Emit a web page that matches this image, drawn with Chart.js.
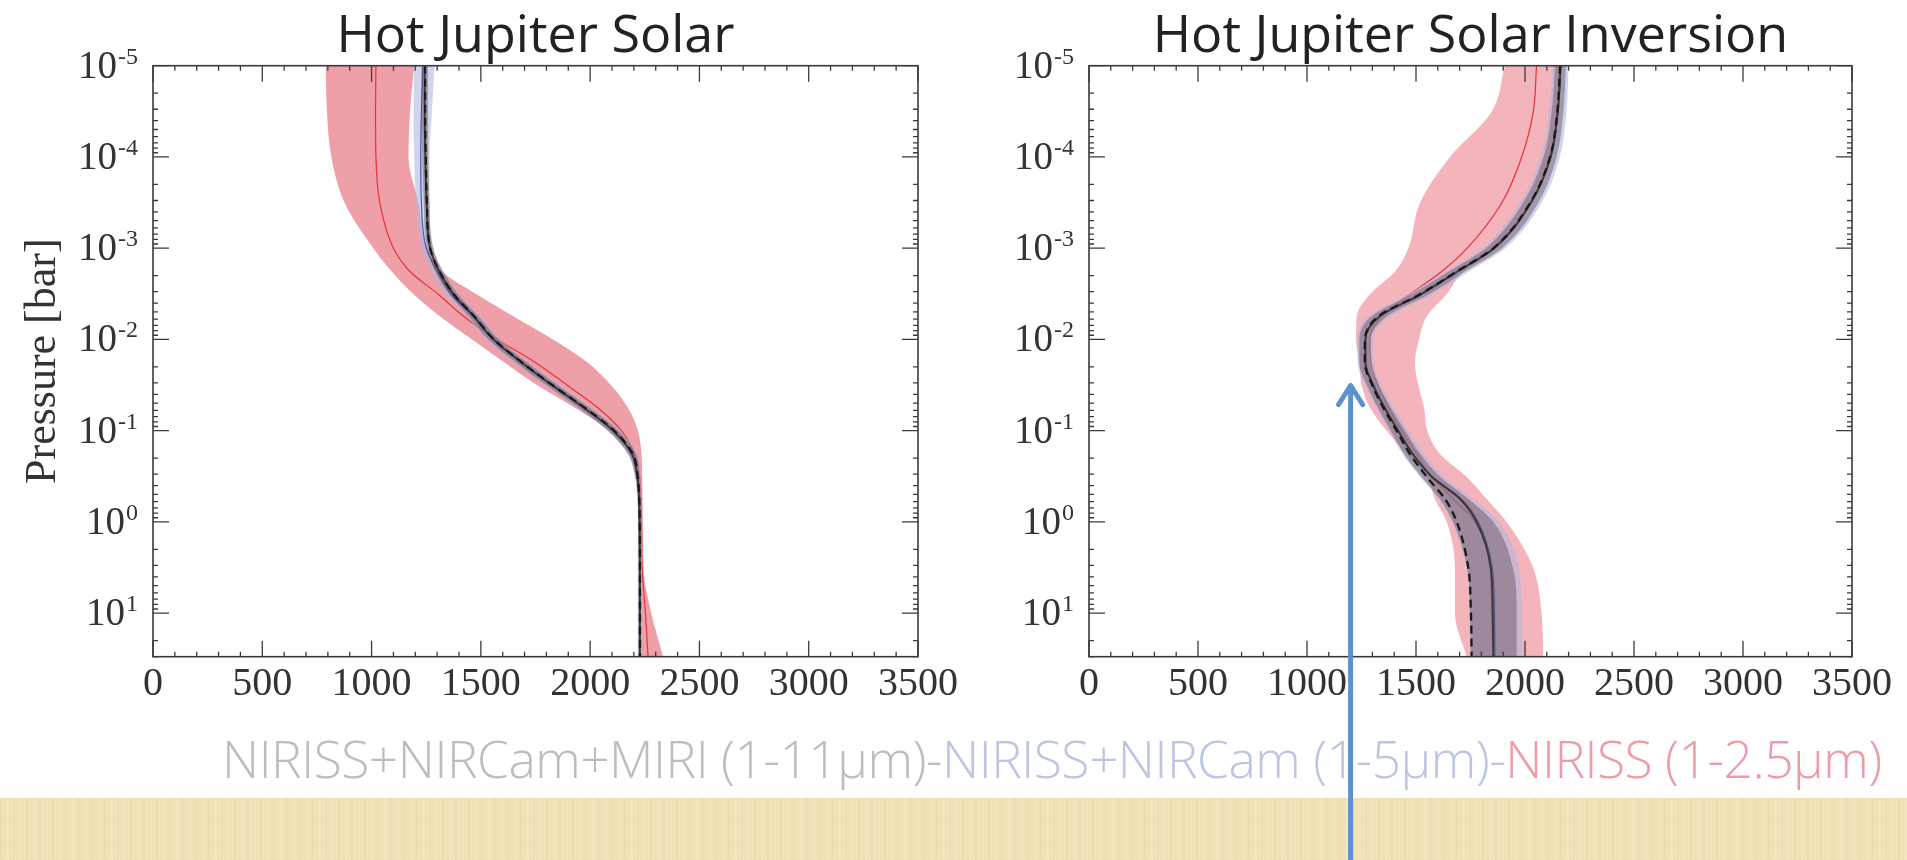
<!DOCTYPE html>
<html>
<head>
<meta charset="utf-8">
<title>Hot Jupiter temperature profiles</title>
<script src="https://cdn.jsdelivr.net/npm/chart.js@4.4.1/dist/chart.umd.min.js"></script>
<style>
  html, body { margin: 0; padding: 0; background: #fff; }
  #page { position: relative; width: 1907px; height: 860px; overflow: hidden; background: #fff; }
  #paper {
    position: absolute; left: 0; top: 798px; width: 1907px; height: 62px;
    background-color: #f2e2b8;
    background-image:
      repeating-linear-gradient(90deg, rgba(196,164,104,0.08) 0 2px, transparent 2px 7px, rgba(255,255,255,0.12) 7px 9px, transparent 9px 13px),
      repeating-linear-gradient(0deg, rgba(190,158,98,0.06) 0 1px, transparent 1px 6px);
  }
  #legend {
    position: absolute; left: 222px; top: 732px; height: 52px; line-height: 52px;
    font-family: "Open Sans", sans-serif; font-weight: 300; font-size: 51.5px;
    white-space: nowrap; letter-spacing: -0.5px;
  }
  #legend .g { color: #bdbdbd; }
  #legend .b { color: #bcc5e2; }
  #legend .r { color: #f09aa5; }
  canvas { position: absolute; top: 0; }
  #solar { left: 0; }
  #inversion { left: 963px; }
</style>
</head>
<body>
<div id="page">
  <div id="paper"></div>
  <div id="legend"><span class="g">NIRISS+NIRCam+MIRI (1-11µm)-</span><span class="b">NIRISS+NIRCam (1-5µm)-</span><span class="r">NIRISS (1-2.5µm)</span></div>
  <canvas id="solar" width="963" height="860"></canvas>
  <canvas id="inversion" width="944" height="860"></canvas>
</div>
<script>
// pressure levels [bar], shared by every profile
var PRESSURE = [1e-5, 3.2e-5, 1e-4, 3.2e-4, 1e-3, 1.8e-3, 3.2e-3, 5.6e-3, 1e-2, 1.8e-2,
                3.2e-2, 5.6e-2, 0.1, 0.18, 0.32, 0.56, 1, 3.2, 10, 30];

var TEMP_TICKS = [0, 500, 1000, 1500, 2000, 2500, 3000, 3500];
var PRESSURE_DECADES = [-5, -4, -3, -2, -1, 0, 1];

// Hot Jupiter Solar (temperatures in K)
var SOLAR_TRUE     = [1245, 1245, 1248, 1253, 1268, 1311, 1376, 1470, 1560, 1690, 1830, 1975, 2110, 2195, 2218, 2225, 2227, 2228, 2228, 2228];
var SOLAR_GRAY_MED = [1243, 1243, 1246, 1252, 1268, 1310, 1375, 1468, 1558, 1688, 1828, 1972, 2106, 2192, 2216, 2224, 2226, 2227, 2227, 2227];
var SOLAR_GRAY_LO  = [1228, 1228, 1232, 1239, 1254, 1292, 1355, 1446, 1534, 1662, 1802, 1946, 2082, 2174, 2206, 2218, 2221, 2222, 2222, 2222];
var SOLAR_GRAY_HI  = [1258, 1258, 1260, 1265, 1282, 1328, 1395, 1490, 1582, 1714, 1854, 1998, 2130, 2210, 2226, 2230, 2231, 2232, 2232, 2232];
var SOLAR_BLUE_MED = [1235, 1228, 1225, 1228, 1250, 1300, 1365, 1465, 1555, 1685, 1826, 1970, 2105, 2190, 2215, 2223, 2226, 2227, 2227, 2227];
var SOLAR_BLUE_LO  = [1195, 1192, 1195, 1204, 1230, 1276, 1337, 1437, 1525, 1650, 1795, 1940, 2080, 2172, 2206, 2215, 2218, 2218, 2218, 2218];
var SOLAR_BLUE_HI  = [1288, 1276, 1265, 1265, 1282, 1325, 1400, 1500, 1588, 1718, 1865, 2008, 2138, 2214, 2230, 2235, 2236, 2237, 2238, 2238];
var SOLAR_RED_MED  = [1020, 1018, 1020, 1038, 1100, 1176, 1305, 1422, 1575, 1751, 1897, 2035, 2143, 2204, 2227, 2232, 2235, 2238, 2253, 2265];
var SOLAR_RED_LO   = [790, 796, 816, 877, 1008, 1092, 1192, 1314, 1460, 1610, 1760, 1930, 2085, 2180, 2212, 2220, 2222, 2224, 2226, 2230];
var SOLAR_RED_HI   = [1195, 1176, 1169, 1215, 1253, 1322, 1480, 1650, 1830, 1990, 2097, 2173, 2219, 2235, 2238, 2240, 2241, 2244, 2280, 2334];

// Hot Jupiter Solar Inversion
var INV_TRUE     = [2161, 2148, 2115, 2023, 1855, 1687, 1518, 1327, 1266, 1265, 1300, 1350, 1411, 1472, 1549, 1633, 1687, 1740, 1752, 1755];
var INV_GRAY_MED = [2163, 2150, 2117, 2026, 1858, 1690, 1522, 1332, 1268, 1268, 1304, 1356, 1418, 1484, 1572, 1702, 1778, 1843, 1852, 1855];
var INV_GRAY_LO  = [2138, 2122, 2085, 1990, 1820, 1650, 1480, 1295, 1240, 1240, 1275, 1325, 1385, 1445, 1525, 1610, 1670, 1735, 1748, 1752];
var INV_GRAY_HI  = [2188, 2176, 2145, 2060, 1895, 1725, 1560, 1365, 1292, 1295, 1330, 1385, 1450, 1520, 1610, 1740, 1855, 1945, 1962, 1962];
var INV_BLUE_MED = [2165, 2152, 2119, 2028, 1860, 1692, 1524, 1333, 1268, 1269, 1306, 1358, 1420, 1487, 1576, 1708, 1785, 1850, 1860, 1862];
var INV_BLUE_LO  = [2128, 2110, 2072, 1975, 1805, 1635, 1465, 1282, 1232, 1232, 1268, 1318, 1378, 1438, 1518, 1605, 1665, 1732, 1745, 1750];
var INV_BLUE_HI  = [2200, 2190, 2160, 2075, 1910, 1742, 1578, 1382, 1302, 1305, 1342, 1398, 1465, 1536, 1628, 1762, 1880, 1972, 1985, 1988];
var INV_RED_MED  = [2053, 2038, 1985, 1893, 1735, 1618, 1472, 1343, 1289, 1295, 1327, 1373, 1434, 1503, 1572, 1671, 1771, 1840, 1847, 1852];
var INV_RED_LO   = [1908, 1847, 1656, 1518, 1465, 1404, 1289, 1228, 1225, 1240, 1251, 1289, 1365, 1457, 1549, 1587, 1641, 1679, 1679, 1732];
var INV_RED_HI   = [2170, 2152, 2118, 2030, 1870, 1717, 1641, 1549, 1514, 1495, 1511, 1537, 1552, 1610, 1732, 1824, 1916, 2038, 2076, 2084];

// arrow pointing at the temperature minimum of the inversion profile
var ARROW_T = 1200;
var ARROW_P = 3.2e-2;

function profile(temps) {
  return temps.map(function (t, i) { return { x: t, y: PRESSURE[i] }; });
}

function line(temps, color, width, order, dash) {
  return {
    data: profile(temps), borderColor: color, borderWidth: width,
    borderDash: dash || [], fill: false, order: order
  };
}

// lower edge fills up to the next dataset (the upper edge)
function band(lo, hi, color, order) {
  return [
    { data: profile(lo), borderWidth: 0, backgroundColor: color, fill: '+1', order: order },
    { data: profile(hi), borderWidth: 0, fill: false, order: order }
  ];
}

// frame, inward ticks, decade labels, titles
var frame = {
  id: 'frame',
  afterDraw: function (chart, args, opts) {
    var ctx = chart.ctx, a = chart.chartArea;
    var x = chart.scales.x, y = chart.scales.y;
    ctx.save();
    ctx.strokeStyle = '#3a3a3a';
    ctx.lineWidth = 1.6;
    ctx.strokeRect(a.left, a.top, a.right - a.left, a.bottom - a.top);

    ctx.beginPath();
    ctx.lineWidth = 1.3;
    for (var t = 0; t <= 3500; t += 100) {
      var px = x.getPixelForValue(t);
      var len = TEMP_TICKS.indexOf(t) >= 0 ? 16 : 5;
      ctx.moveTo(px, a.bottom); ctx.lineTo(px, a.bottom - len);
      ctx.moveTo(px, a.top); ctx.lineTo(px, a.top + len);
    }
    PRESSURE_DECADES.forEach(function (e) {
      for (var m = 1; m < 10; m++) {
        var p = m * Math.pow(10, e);
        if (p > y.max) break;
        var py = y.getPixelForValue(p);
        var l = m === 1 ? 16 : 5;
        ctx.moveTo(a.left, py); ctx.lineTo(a.left + l, py);
        ctx.moveTo(a.right, py); ctx.lineTo(a.right - l, py);
      }
    });
    ctx.stroke();

    // 10^n labels
    ctx.fillStyle = '#333';
    ctx.textAlign = 'right';
    ctx.textBaseline = 'alphabetic';
    PRESSURE_DECADES.forEach(function (e) {
      var py = y.getPixelForValue(Math.pow(10, e));
      var exp = String(e);
      ctx.font = '24px "Liberation Serif", serif';
      var ex = a.left - 15;
      ctx.fillText(exp, ex, py - 2);
      var w = ctx.measureText(exp).width;
      ctx.font = '39px "Liberation Serif", serif';
      ctx.fillText('10', ex - w - 1, py + 12);
    });

    if (opts.yTitle) {
      ctx.save();
      ctx.translate(43, (a.top + a.bottom) / 2);
      ctx.rotate(-Math.PI / 2);
      ctx.textAlign = 'center';
      ctx.textBaseline = 'middle';
      ctx.font = '44px "Liberation Serif", serif';
      ctx.fillText(opts.yTitle, 0, 0);
      ctx.restore();
    }

    ctx.fillStyle = '#222';
    ctx.textAlign = 'center';
    ctx.font = '52px "Open Sans", sans-serif';
    ctx.fillText(opts.title, (a.left + a.right) / 2, 52);

    if (opts.arrow) {
      var ax = x.getPixelForValue(opts.arrow.t);
      var ay = y.getPixelForValue(opts.arrow.p);
      ctx.strokeStyle = '#5b92cd';
      ctx.lineWidth = 5;
      ctx.lineCap = 'round';
      ctx.lineJoin = 'round';
      ctx.beginPath();
      ctx.moveTo(ax, chart.height);
      ctx.lineTo(ax, ay);
      ctx.moveTo(ax - 12, ay + 19);
      ctx.lineTo(ax, ay);
      ctx.lineTo(ax + 12, ay + 19);
      ctx.stroke();
    }
    ctx.restore();
  }
};

function makePanel(id, title, s, yWidth, padRight, extra) {
  var datasets = []
    .concat([line(s.truth, '#1a1a1a', 2.3, 0, [8, 5])])
    .concat([line(s.grayMed, '#3a3a3a', 2, 1)])
    .concat(band(s.grayLo, s.grayHi, 'rgba(95,72,82,0.42)', 2))
    .concat([line(s.blueMed, '#4a58a8', 1.2, 3)])
    .concat(band(s.blueLo, s.blueHi, 'rgba(175,185,225,0.6)', 4))
    .concat([line(s.redMed, '#e5323c', 1.2, 5)])
    .concat(band(s.redLo, s.redHi, s.redFill, 6));

  return new Chart(document.getElementById(id), {
    type: 'line',
    data: { datasets: datasets },
    options: {
      indexAxis: 'y',
      responsive: false,
      animation: false,
      events: [],
      elements: {
        point: { radius: 0 },
        line: { cubicInterpolationMode: 'monotone' }
      },
      layout: { padding: { top: 65.7, right: padRight, bottom: 153.3, left: 0 } },
      plugins: {
        legend: { display: false },
        tooltip: { enabled: false },
        frame: Object.assign({ title: title }, extra)
      },
      scales: {
        x: {
          type: 'linear', min: 0, max: 3500,
          afterBuildTicks: function (sc) { sc.ticks = TEMP_TICKS.map(function (v) { return { value: v }; }); },
          ticks: {
            font: { family: '"Liberation Serif", serif', size: 40 },
            color: '#333', padding: 4, maxRotation: 0, autoSkip: false,
            callback: function (v) { return String(v); }
          },
          grid: { display: false, drawTicks: false },
          border: { display: false },
          afterFit: function (sc) { sc.height = 50; }
        },
        y: {
          type: 'logarithmic', reverse: true, min: 1e-5, max: 30,
          ticks: { display: false },
          grid: { display: false, drawTicks: false },
          border: { display: false },
          afterFit: function (sc) { sc.width = yWidth; }
        }
      }
    },
    plugins: [frame]
  });
}

makePanel('solar', 'Hot Jupiter Solar', {
  truth: SOLAR_TRUE, grayMed: SOLAR_GRAY_MED, grayLo: SOLAR_GRAY_LO, grayHi: SOLAR_GRAY_HI,
  blueMed: SOLAR_BLUE_MED, blueLo: SOLAR_BLUE_LO, blueHi: SOLAR_BLUE_HI,
  redMed: SOLAR_RED_MED, redLo: SOLAR_RED_LO, redHi: SOLAR_RED_HI, redFill: '#ef9fa7'
}, 153, 45, { yTitle: 'Pressure [bar]' });

makePanel('inversion', 'Hot Jupiter Solar Inversion', {
  truth: INV_TRUE, grayMed: INV_GRAY_MED, grayLo: INV_GRAY_LO, grayHi: INV_GRAY_HI,
  blueMed: INV_BLUE_MED, blueLo: INV_BLUE_LO, blueHi: INV_BLUE_HI,
  redMed: INV_RED_MED, redLo: INV_RED_LO, redHi: INV_RED_HI, redFill: '#f4b4bb'
}, 126, 55, { arrow: { t: ARROW_T, p: ARROW_P } });
</script>
</body>
</html>
